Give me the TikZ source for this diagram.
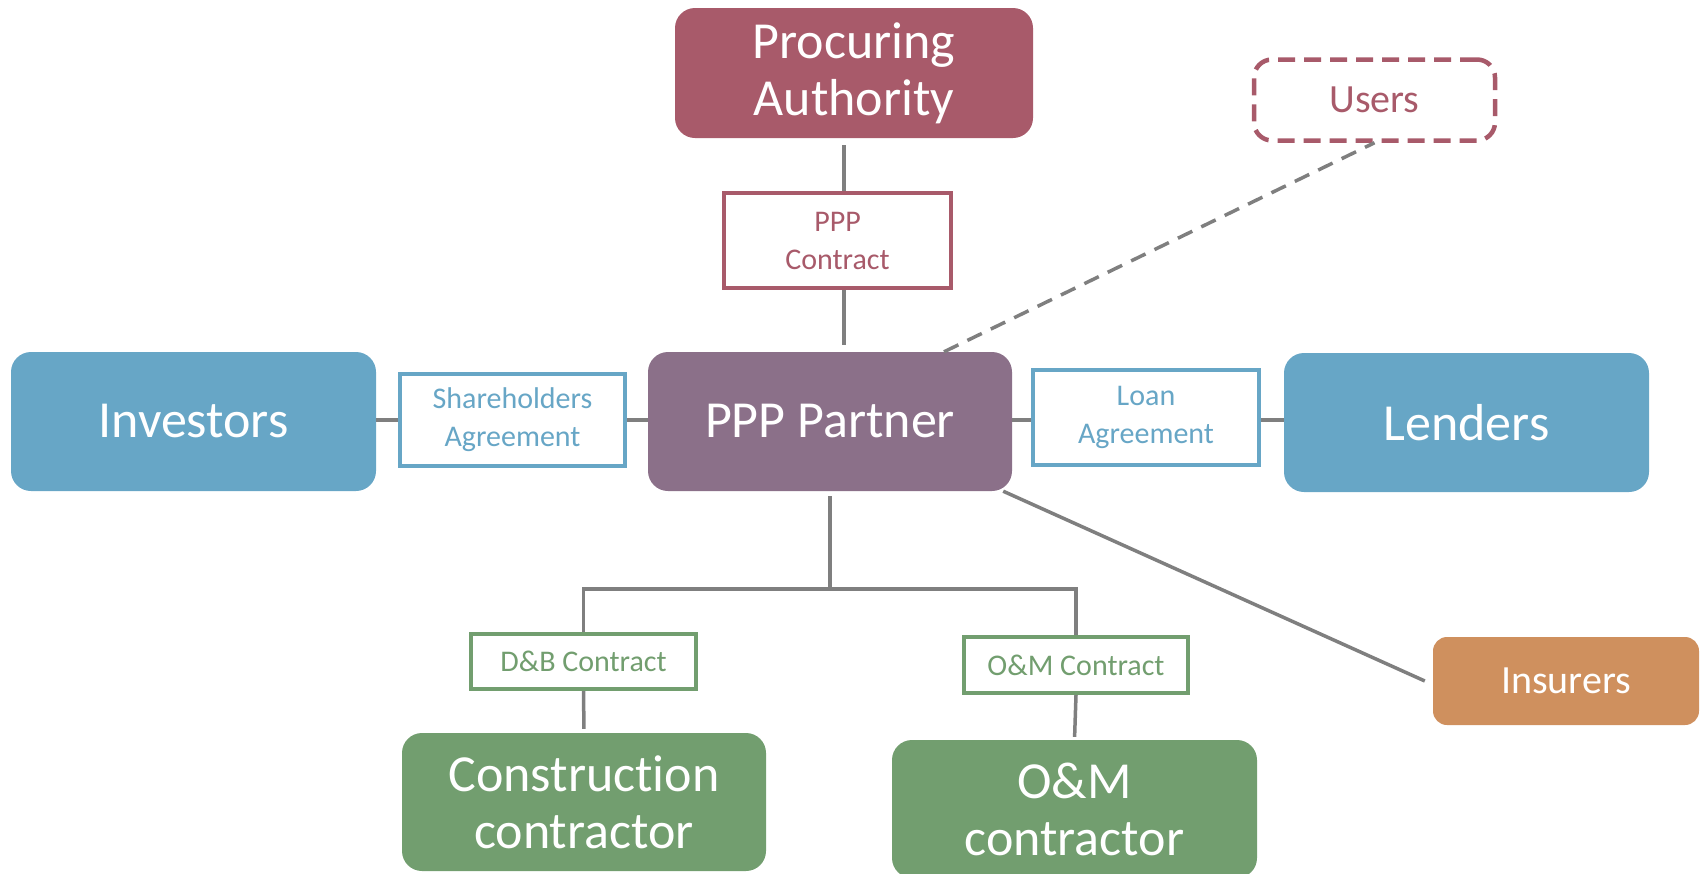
\documentclass[tikz,border=0pt]{standalone}
\usepackage{fontspec}
\setmainfont[Ligatures={NoCommon}]{Carlito}
\definecolor{cpa}{HTML}{A85A6A}
\definecolor{cpp}{HTML}{8B7089}
\definecolor{cbl}{HTML}{67A6C6}
\definecolor{cgr}{HTML}{729E6F}
\definecolor{cor}{HTML}{CF905E}
\definecolor{cln}{HTML}{7F7F7F}
\begin{document}
\begin{tikzpicture}[x=1pt,y=-1pt,
  bigbox/.style={rectangle,rounded corners=20pt,draw=none,text=white,align=center,
    font=\fontsize{52}{57}\selectfont,inner sep=0pt},
  contractbox/.style={rectangle,draw=#1,line width=4pt,fill=white,text=#1,align=center,
    font=\fontsize{30}{38}\selectfont,inner sep=0pt},
  conn/.style={draw=cln,line width=3.5pt},
  dashconn/.style={draw=cln,line width=3.5pt,dash pattern=on 16pt off 10pt}]
\useasboundingbox (0,0) rectangle (1702,873);
\begin{scope}
\clip (0,0) rectangle (1702,873);
% main boxes
\node[bigbox,fill=cpa,minimum width=358pt,minimum height=130pt] (pa) at (854,73) {Procuring\\Authority};
\node[rectangle,rounded corners=18pt,draw=cpa,line width=4.5pt,dash pattern=on 17pt off 9pt,text=cpa,
  font=\fontsize{40}{48}\selectfont,minimum width=241pt,minimum height=81pt,inner sep=0pt] (us) at (1374.5,100) {Users};
\node[contractbox=cpa,minimum width=227pt,minimum height=95pt] (pppc) at (837.5,240.5) {PPP\\Contract};
\node[bigbox,fill=cbl,minimum width=365pt,minimum height=139pt] (inv) at (193.5,421.5) {Investors};
\node[contractbox=cbl,minimum width=225pt,minimum height=92pt] (sha) at (512.5,420) {Shareholders\\Agreement};
\node[bigbox,fill=cpp,minimum width=364pt,minimum height=139pt] (pp) at (830,421.5) {PPP Partner};
\node[contractbox=cbl,minimum width=226pt,minimum height=95pt] (loan) at (1146,417.5) {Loan\\Agreement};
\node[bigbox,fill=cbl,minimum width=365pt,minimum height=139pt] (len) at (1466.5,422.5) {Lenders};
\node[bigbox,fill=cor,rounded corners=14pt,font=\fontsize{40}{48}\selectfont,minimum width=266pt,minimum height=88pt] (ins) at (1566,681) {Insurers};
\node[contractbox=cgr,minimum width=225pt,minimum height=55pt] (dbc) at (583.5,661.5) {D\&B Contract};
\node[contractbox=cgr,minimum width=224pt,minimum height=56pt] (omc) at (1076,665) {O\&M Contract};
\node[bigbox,fill=cgr,minimum width=364pt,minimum height=138pt] (cc) at (584,802) {Construction\\contractor};
\node[bigbox,fill=cgr,minimum width=365pt,minimum height=138pt] (omk) at (1074.5,809) {O\&M\\contractor};
% connectors
\coordinate (vx) at (844,0);
\coordinate (hy) at (0,420);
\coordinate (tj) at (832,589);
\draw[conn,shorten <=7pt] (pa.south -| vx) -- (pppc.north -| vx);
\draw[conn,shorten >=7pt] (pppc.south -| vx) -- (pp.north -| vx);
\draw[conn] (inv.east |- hy) -- (sha.west |- hy);
\draw[conn] (sha.east |- hy) -- (pp.west |- hy);
\draw[conn] (pp.east |- hy) -- (loan.west |- hy);
\draw[conn] (loan.east |- hy) -- (len.west |- hy);
\draw[dashconn] ([xshift=114pt]pp.north) -- (us.south);
\draw[conn] ([xshift=-9pt]pp.south east) -- ([xshift=-8pt]ins.west);
\draw[conn,shorten <=5pt] (pp.south) -- (pp.south |- tj);
\draw[conn,line join=miter] (dbc.north) -- (dbc.north |- tj) -- (omc.north |- tj) -- (omc.north);
\draw[conn,shorten >=4pt] (dbc.south) -- (cc.north);
\draw[conn,shorten >=3pt] (omc.south) -- (omk.north);
\end{scope}
\end{tikzpicture}
\end{document}
